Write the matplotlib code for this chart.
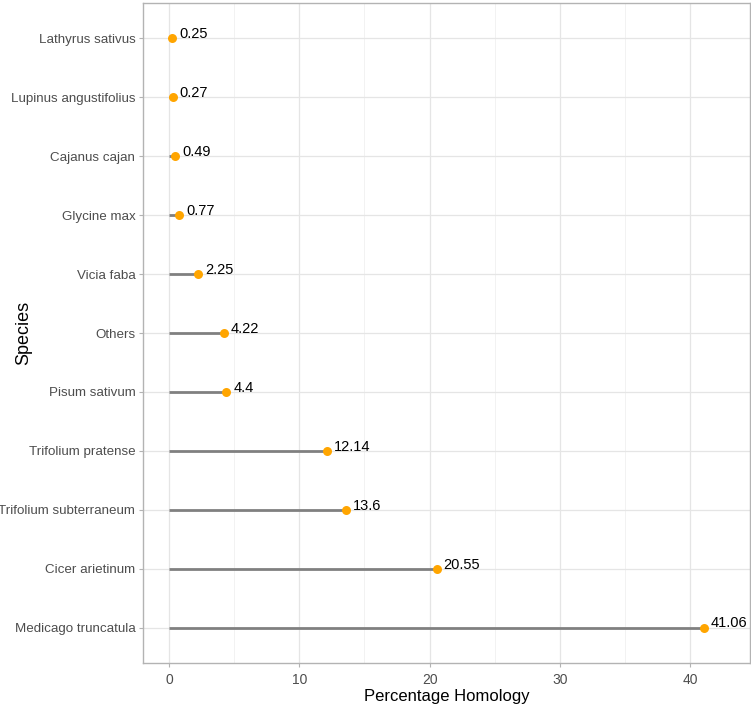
import matplotlib.pyplot as plt
import numpy as np

plt.rcParams['font.family'] = ['Liberation Sans', 'DejaVu Sans']

# Data (top to bottom as shown)
species = ["Lathyrus sativus", "Lupinus angustifolius", "Cajanus cajan",
           "Glycine max", "Vicia faba", "Others", "Pisum sativum",
           "Trifolium pratense", "Trifolium subterraneum", "Cicer arietinum",
           "Medicago truncatula"]
homology = [0.25, 0.27, 0.49, 0.77, 2.25, 4.22, 4.4, 12.14, 13.6, 20.55, 41.06]
labels = ["0.25", "0.27", "0.49", "0.77", "2.25", "4.22", "4.4",
          "12.14", "13.6", "20.55", "41.06"]

fig = plt.figure(figsize=(7.51, 7.04), dpi=100)
ax = fig.add_axes([143 / 751, 1 - 663 / 704, (750 - 143) / 751, (663 - 3) / 704])

# categories from bottom (1) to top (11)
ypos = np.arange(len(species))[::-1] + 1

ax.hlines(ypos, 0, homology, color='#808080', linewidth=2, zorder=3)
ax.scatter(homology, ypos, s=42, color='#FFA500', zorder=4, linewidths=0)

for x, y, lab in zip(homology, ypos, labels):
    ax.annotate(lab, (x, y), xytext=(5, 3), textcoords='offset points',
                ha='left', va='center', fontsize=10.5, color='black', zorder=5)

ax.set_xlim(-2.0, 44.6)
ax.set_ylim(0.4, len(species) + 0.6)
ax.set_yticks(ypos)
ax.set_yticklabels(species)
ax.set_xticks([0, 10, 20, 30, 40])
ax.set_xticks([5, 15, 25, 35], minor=True)

ax.grid(which='major', color='#E5E5E5', linewidth=0.9, zorder=0)
ax.grid(which='minor', axis='x', color='#F0F0F0', linewidth=0.6, zorder=0)
ax.set_axisbelow(True)

for s in ax.spines.values():
    s.set_color('#B3B3B3')
    s.set_linewidth(1.0)

ax.tick_params(axis='both', which='major', colors='#B3B3B3', labelcolor='#4D4D4D',
               labelsize=9.6, length=3, width=0.8, pad=2.5)
ax.tick_params(axis='x', which='major', labelsize=10, pad=4.5)
ax.tick_params(axis='x', which='minor', length=0)

ax.set_xlabel("Percentage Homology", fontsize=12, color='black', labelpad=1)
ax.set_ylabel("Species", fontsize=13, color='black')
ax.yaxis.set_label_coords(-(143 - 32) / 607, 0.5)

fig.savefig("out.png", dpi=100)
